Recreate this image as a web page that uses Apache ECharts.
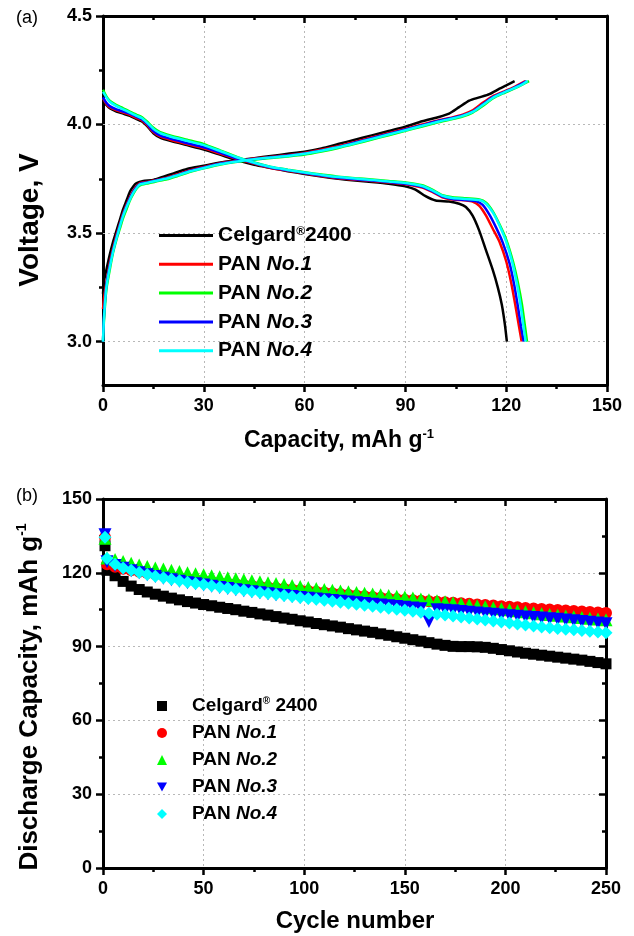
<!DOCTYPE html>
<html>
<head>
<meta charset="utf-8">
<script src="https://cdn.jsdelivr.net/npm/echarts@6/dist/echarts.min.js"></script>
<style>
  html, body { margin: 0; padding: 0; background: #fff; }
  #chart { width: 634px; height: 936px; }
</style>
</head>
<body>
<div id="chart"></div>
<script>
// ---- (a) charge / discharge profiles: [capacity mAh/g, voltage V] ----
const celgardCharge = [[0,3.22],[0.3,3.28],[1,3.33],[2,3.40],[3,3.46],[4,3.51],[5,3.56],[6,3.61],[7,3.65],[8,3.69],[9,3.715],[10,3.73],[12,3.74],[15,3.745],[18,3.76],[21,3.775],[25,3.795],[30,3.81],[35,3.825],[40,3.835],[45,3.845],[50,3.855],[55,3.865],[60,3.875],[65,3.89],[70,3.91],[75,3.93],[80,3.95],[85,3.97],[90,3.99],[95,4.015],[100,4.035],[103,4.05],[106,4.08],[109,4.11],[112,4.125],[115,4.14],[118,4.165],[120,4.18],[122.5,4.2]];
const celgardDischarge = [[0,4.11],[1,4.09],[2,4.075],[4,4.06],[6,4.05],[8,4.04],[10,4.025],[11.5,4.015],[13,3.995],[15,3.96],[17,3.94],[20,3.925],[25,3.905],[30,3.885],[35,3.86],[40,3.835],[45,3.815],[50,3.80],[55,3.785],[60,3.772],[65,3.76],[70,3.75],[75,3.742],[80,3.735],[85,3.727],[90,3.715],[93,3.70],[96,3.67],[99,3.65],[103,3.645],[106,3.635],[108,3.62],[110,3.58],[112,3.51],[114,3.42],[116,3.33],[117.5,3.25],[118.7,3.17],[119.6,3.08],[120.2,3.0]];

const pan1Charge = [[0,3.15],[0.3,3.2],[1,3.27],[2,3.36],[3,3.43],[4,3.49],[5,3.54],[6,3.59],[7,3.63],[8,3.665],[9,3.695],[10,3.715],[11,3.73],[13,3.735],[16,3.745],[19,3.755],[22,3.77],[26,3.79],[30,3.805],[35,3.822],[40,3.833],[45,3.843],[50,3.851],[55,3.859],[60,3.869],[65,3.884],[70,3.9],[75,3.92],[80,3.94],[85,3.96],[90,3.98],[95,4.0],[100,4.02],[104,4.033],[107,4.045],[110,4.065],[113,4.1],[116,4.13],[119,4.15],[122,4.17],[125.7,4.2]];
const pan1Discharge = [[0,4.12],[1,4.095],[2,4.08],[4,4.065],[6,4.055],[8,4.045],[10,4.03],[11.5,4.02],[13,4.0],[15,3.965],[17,3.945],[20,3.93],[25,3.91],[30,3.89],[35,3.865],[40,3.84],[45,3.82],[50,3.80],[55,3.787],[60,3.775],[65,3.763],[70,3.753],[75,3.746],[80,3.74],[85,3.733],[90,3.725],[95,3.71],[98,3.69],[101,3.665],[104,3.655],[108,3.65],[110,3.645],[112,3.625],[114,3.58],[116,3.52],[118,3.46],[120,3.37],[121.5,3.27],[122.7,3.17],[123.7,3.08],[124.6,3.0]];

const pan2Charge = [[0,3.0],[0.3,3.1],[1,3.24],[2,3.33],[3,3.41],[4,3.47],[5,3.52],[6,3.57],[7,3.61],[8,3.65],[9,3.68],[10,3.705],[11,3.72],[13,3.728],[16,3.738],[19,3.748],[22,3.762],[26,3.782],[30,3.798],[35,3.816],[40,3.828],[45,3.838],[50,3.846],[55,3.853],[60,3.862],[65,3.876],[70,3.892],[75,3.911],[80,3.931],[85,3.951],[90,3.971],[95,3.991],[100,4.011],[104,4.025],[107,4.037],[110,4.055],[113,4.085],[116,4.12],[119,4.143],[122,4.163],[124.5,4.182],[126.8,4.2]];
const pan2Discharge = [[0,4.16],[1,4.13],[2,4.11],[4,4.09],[6,4.075],[8,4.06],[10,4.045],[11.5,4.035],[13,4.015],[15,3.985],[17,3.965],[20,3.95],[25,3.93],[30,3.91],[35,3.88],[40,3.85],[45,3.825],[50,3.805],[55,3.792],[60,3.78],[65,3.77],[70,3.76],[75,3.753],[80,3.747],[85,3.74],[90,3.733],[95,3.72],[98,3.70],[101,3.675],[104,3.665],[108,3.66],[112,3.655],[114,3.64],[116,3.60],[118,3.54],[120,3.47],[122,3.37],[123.5,3.27],[124.7,3.17],[125.5,3.08],[126.2,3.0]];

const pan3Charge = [[0,3.0],[0.3,3.12],[1,3.26],[2,3.35],[3,3.42],[4,3.48],[5,3.535],[6,3.585],[7,3.625],[8,3.66],[9,3.69],[10,3.712],[11,3.727],[13,3.733],[16,3.743],[19,3.753],[22,3.767],[26,3.787],[30,3.802],[35,3.82],[40,3.831],[45,3.841],[50,3.849],[55,3.857],[60,3.867],[65,3.881],[70,3.897],[75,3.917],[80,3.937],[85,3.957],[90,3.977],[95,3.997],[100,4.017],[104,4.03],[107,4.042],[110,4.06],[113,4.093],[116,4.126],[119,4.147],[122,4.167],[126.1,4.2]];
const pan3Discharge = [[0,4.125],[1,4.1],[2,4.085],[4,4.07],[6,4.06],[8,4.05],[10,4.035],[11.5,4.025],[13,4.005],[15,3.97],[17,3.95],[20,3.935],[25,3.915],[30,3.895],[35,3.87],[40,3.843],[45,3.822],[50,3.802],[55,3.789],[60,3.777],[65,3.765],[70,3.755],[75,3.748],[80,3.742],[85,3.735],[90,3.727],[95,3.713],[98,3.693],[101,3.668],[104,3.657],[108,3.652],[111,3.647],[113,3.63],[115,3.585],[117,3.525],[119,3.455],[121,3.36],[122.4,3.26],[123.5,3.16],[124.4,3.07],[125.2,3.0]];

const pan4Charge = [[0,3.0],[0.3,3.11],[1,3.25],[2,3.34],[3,3.415],[4,3.475],[5,3.53],[6,3.58],[7,3.62],[8,3.655],[9,3.685],[10,3.708],[11,3.724],[13,3.731],[16,3.741],[19,3.751],[22,3.765],[26,3.785],[30,3.8],[35,3.818],[40,3.83],[45,3.84],[50,3.848],[55,3.855],[60,3.865],[65,3.879],[70,3.895],[75,3.914],[80,3.934],[85,3.954],[90,3.974],[95,3.994],[100,4.014],[104,4.028],[107,4.04],[110,4.058],[113,4.09],[116,4.123],[119,4.145],[122,4.165],[124.5,4.183],[126.4,4.2]];
const pan4Discharge = [[0,4.15],[1,4.125],[2,4.105],[4,4.085],[6,4.07],[8,4.055],[10,4.04],[11.5,4.03],[13,4.01],[15,3.98],[17,3.96],[20,3.945],[25,3.925],[30,3.905],[35,3.877],[40,3.848],[45,3.824],[50,3.804],[55,3.791],[60,3.779],[65,3.768],[70,3.758],[75,3.751],[80,3.745],[85,3.738],[90,3.731],[95,3.717],[98,3.697],[101,3.672],[104,3.662],[108,3.657],[112,3.652],[114,3.635],[116,3.595],[118,3.535],[120,3.46],[121.8,3.365],[123.2,3.265],[124.3,3.165],[125.1,3.075],[125.8,3.0]];

// ---- (b) cycling performance: discharge capacity (mAh/g) per cycle ----
const cycles = [1,2,6,10,14,18,22,26,30,34,38,42,46,50,54,58,62,66,70,74,78,82,86,90,94,98,102,106,110,114,118,122,126,130,134,138,142,146,150,154,158,162,166,170,174,178,182,186,190,194,198,202,206,210,214,218,222,226,230,234,238,242,246,250];
const celgardCycle = [131.0,121.0,118.8,116.5,114.6,113.2,112.2,111.3,110.5,109.7,109.0,108.3,107.7,107.1,106.6,106.0,105.5,105.0,104.4,103.9,103.3,102.8,102.2,101.6,101.1,100.5,100.0,99.4,98.9,98.4,97.9,97.3,96.8,96.3,95.8,95.2,94.6,94.0,93.4,92.8,92.2,91.6,91.0,90.5,90.1,90.0,90.0,89.9,89.7,89.3,88.8,88.3,87.8,87.3,86.9,86.5,86.1,85.7,85.3,84.9,84.5,84.0,83.5,83.0];
const pan1Cycle = [134.5,123.5,122.5,121.6,121.0,120.4,119.9,119.4,118.9,118.4,118.0,117.6,117.2,116.8,116.4,116.0,115.7,115.4,115.0,114.7,114.4,114.1,113.8,113.5,113.2,112.9,112.6,112.3,112.0,111.7,111.4,111.1,110.8,110.5,110.2,109.9,109.6,109.3,109.0,108.8,108.6,108.4,108.2,108.0,107.8,107.6,107.4,107.1,106.9,106.7,106.4,106.2,106.0,105.7,105.5,105.3,105.1,104.9,104.7,104.5,104.3,104.1,103.9,103.7];
const pan2Cycle = [134.0,126.0,125.4,124.6,123.9,123.2,122.6,122.0,121.5,121.0,120.5,120.0,119.6,119.2,118.8,118.4,118.0,117.6,117.2,116.8,116.4,116.0,115.6,115.2,114.8,114.4,114.0,113.6,113.2,112.9,112.6,112.3,112.0,111.7,111.4,111.1,110.8,110.5,110.2,109.8,109.4,109.0,108.6,108.2,107.8,107.4,107.0,106.6,106.2,105.8,105.4,105.0,104.6,104.2,103.8,103.4,103.0,102.7,102.4,102.1,101.8,101.5,101.2,100.9];
const pan3Cycle = [135.5,124.5,123.0,121.8,120.8,120.0,119.2,118.5,117.8,117.2,116.6,116.0,115.5,115.0,114.5,114.0,113.6,113.1,112.7,112.3,111.9,111.5,111.1,110.8,110.4,110.0,109.7,109.3,109.0,108.7,108.4,108.1,107.8,107.5,107.2,106.9,106.6,106.3,106.0,105.7,105.4,100.2,105.0,104.8,104.6,104.3,104.0,103.7,103.4,103.1,102.8,102.5,102.3,102.0,101.8,101.6,101.3,101.1,100.8,100.5,100.2,99.9,99.6,99.3];
const pan4Cycle = [134.5,125.8,123.5,122.0,121.0,120.1,119.3,118.6,118.0,117.4,116.8,116.2,115.7,115.2,114.7,114.2,113.8,113.3,112.9,112.4,112.0,111.6,111.2,110.8,110.4,110.0,109.6,109.2,108.8,108.4,108.0,107.6,107.2,106.8,106.4,106.0,105.6,105.2,104.8,104.4,104.0,103.6,103.2,102.8,102.4,102.0,101.6,101.2,100.8,100.4,100.0,99.6,99.2,98.8,98.4,98.0,97.7,97.4,97.1,96.8,96.5,96.2,95.9,95.6];

// ---- labels ----
const sampleNames = ['Celgard® 2400', 'PAN No.1', 'PAN No.2', 'PAN No.3', 'PAN No.4'];
const sampleColors = ['#000000', '#ff0000', '#00ff00', '#0000ff', '#00ffff'];
const voltageTicks = [3.0, 3.5, 4.0, 4.5];
const voltageMinorTicks = [3.25, 3.75, 4.25];

const profiles = [
  [celgardCharge, celgardDischarge],
  [pan1Charge, pan1Discharge],
  [pan2Charge, pan2Discharge],
  [pan3Charge, pan3Discharge],
  [pan4Charge, pan4Discharge]
];
const cycleValues = [celgardCycle, pan1Cycle, pan2Cycle, pan3Cycle, pan4Cycle];
const cycleSymbols = ['rect', 'circle', 'triangle', 'triangle', 'diamond'];
const cycleSymbolRotate = [0, 0, 0, 180, 0];
const cycleSymbolSize = [11, 12, 13, 13, 13];

const FONT = 'Liberation Sans, Arial, sans-serif';
const BLACK = '#000';

const tickLabel = (size) => ({ fontFamily: FONT, fontWeight: 'bold', fontSize: size, color: BLACK });
const gridDots = { show: true, lineStyle: { type: [2, 3], color: '#b8b8b8', width: 1 } };
const frameLine = { show: true, onZero: false, lineStyle: { color: BLACK, width: 3 } };
const majorTick = (inside) => ({ show: true, inside: inside, length: 7, lineStyle: { color: BLACK, width: 2.5 } });
const minorTick = { show: true, splitNumber: 2, length: 4, lineStyle: { color: BLACK, width: 2.5 } };

function legendText(spaceBeforeNumber) {
  return function (name) {
    if (name.indexOf('Celgard') === 0) {
      return '{b|Celgard}{sup|®}{b|' + (spaceBeforeNumber ? ' ' : '') + '2400}';
    }
    return '{b|PAN }{i|' + name.slice(4) + '}';
  };
}
function legendRich(size) {
  return {
    b: { fontFamily: FONT, fontWeight: 'bold', fontSize: size, lineHeight: 20, color: BLACK },
    i: { fontFamily: FONT, fontWeight: 'bold', fontStyle: 'italic', fontSize: size, lineHeight: 20, color: BLACK },
    sup: { fontFamily: FONT, fontWeight: 'bold', fontSize: Math.round(size * 0.55), lineHeight: 10, verticalAlign: 'top', color: BLACK }
  };
}

const series = [];
profiles.forEach((pair, i) => {
  pair.forEach((curve, k) => {
    const s = {
      type: 'line', name: sampleNames[i], xAxisIndex: 0, yAxisIndex: 0,
      data: curve, showSymbol: false, symbol: 'none', smooth: 0.2,
      color: sampleColors[i], lineStyle: { width: 2.5, color: sampleColors[i] },
      animation: false, z: 3
    };
    if (i === 0 && k === 0) {
      s.markLine = {
        silent: true, symbol: ['none', 'none'], label: { show: false }, z: 1,
        lineStyle: { type: [2, 3], color: '#b8b8b8', width: 1 },
        data: voltageTicks.filter(v => v < 4.5).map(v => ({ yAxis: v }))
      };
    }
    series.push(s);
  });
});
cycleValues.forEach((vals, i) => {
  series.push({
    type: 'scatter', name: sampleNames[i], xAxisIndex: 2, yAxisIndex: 3,
    data: cycles.map((c, j) => [c, vals[j]]),
    symbol: cycleSymbols[i], symbolRotate: cycleSymbolRotate[i], symbolSize: cycleSymbolSize[i],
    itemStyle: { color: sampleColors[i], opacity: 1 }, color: sampleColors[i],
    animation: false, z: 3
  });
});

const titleRich = (size) => ({
  t: { fontFamily: FONT, fontWeight: 'bold', fontSize: size, lineHeight: size + 4, fill: BLACK, color: BLACK },
  s: { fontFamily: FONT, fontWeight: 'bold', fontSize: Math.round(size * 0.55), lineHeight: 12, verticalAlign: 'top', fill: BLACK, color: BLACK }
});

const option = {
  backgroundColor: '#fff',
  animation: false,
  grid: [
    { left: 103, top: 16, width: 504, height: 369 },
    { left: 103, top: 499, width: 503, height: 369 }
  ],
  xAxis: [
    { gridIndex: 0, type: 'value', position: 'bottom', min: 0, max: 150, interval: 30,
      axisLine: frameLine, axisTick: majorTick(false), minorTick: minorTick,
      axisLabel: Object.assign({ margin: 12 }, tickLabel(18)), splitLine: gridDots },
    { gridIndex: 0, type: 'value', position: 'top', min: 0, max: 150, interval: 30,
      axisLine: frameLine, axisTick: majorTick(true), minorTick: minorTick,
      axisLabel: { show: false }, splitLine: { show: false } },
    { gridIndex: 1, type: 'value', position: 'bottom', min: 0, max: 250, interval: 50,
      axisLine: frameLine, axisTick: majorTick(false), minorTick: minorTick,
      axisLabel: Object.assign({ margin: 12 }, tickLabel(18)), splitLine: gridDots },
    { gridIndex: 1, type: 'value', position: 'top', min: 0, max: 250, interval: 50,
      axisLine: frameLine, axisTick: majorTick(true), minorTick: minorTick,
      axisLabel: { show: false }, splitLine: { show: false } }
  ],
  yAxis: [
    { gridIndex: 0, type: 'value', position: 'left', min: 2.8, max: 4.5,
      axisLine: frameLine,
      axisTick: Object.assign(majorTick(false), { customValues: voltageTicks }),
      axisLabel: Object.assign({ margin: 11, customValues: voltageTicks, formatter: v => v.toFixed(1) }, tickLabel(18)),
      splitLine: { show: false } },
    { gridIndex: 0, type: 'value', position: 'left', min: 2.8, max: 4.5,
      axisLine: { show: false, onZero: false },
      axisTick: { show: true, inside: false, length: 4, customValues: voltageMinorTicks, lineStyle: { color: BLACK, width: 2.5 } },
      axisLabel: { show: false }, splitLine: { show: false } },
    { gridIndex: 0, type: 'value', position: 'right', min: 2.8, max: 4.5,
      axisLine: frameLine, axisTick: { show: false }, axisLabel: { show: false }, splitLine: { show: false } },
    { gridIndex: 1, type: 'value', position: 'left', min: 0, max: 150, interval: 30,
      axisLine: frameLine, axisTick: majorTick(false), minorTick: minorTick,
      axisLabel: Object.assign({ margin: 11 }, tickLabel(18)), splitLine: gridDots },
    { gridIndex: 1, type: 'value', position: 'right', min: 0, max: 150, interval: 30,
      axisLine: frameLine, axisTick: majorTick(true), minorTick: minorTick,
      axisLabel: { show: false }, splitLine: { show: false } }
  ],
  legend: [
    { orient: 'vertical', left: 159, top: 225, padding: 0, itemGap: 7.8, itemWidth: 54, itemHeight: 3,
      icon: 'rect', selectedMode: false,
      data: sampleNames.map(n => ({ name: n, icon: 'rect' })),
      formatter: legendText(false),
      textStyle: { rich: legendRich(21) } },
    { orient: 'vertical', left: 157, top: 696, padding: 0, itemGap: 8.0, itemWidth: 10, itemHeight: 10,
      selectedMode: false,
      data: [
        { name: sampleNames[0], icon: 'rect' },
        { name: sampleNames[1], icon: 'circle' },
        { name: sampleNames[2], icon: 'triangle' },
        { name: sampleNames[3], icon: 'path://M0,0L10,0L5,9Z' },
        { name: sampleNames[4], icon: 'diamond' }
      ],
      formatter: legendText(true),
      textStyle: { padding: [0, 0, 0, 20], rich: legendRich(19) } }
  ],
  graphic: [
    { type: 'text', x: 16, y: 18, style: { text: '(a)', font: '18px ' + FONT, fill: BLACK, align: 'left', verticalAlign: 'middle' } },
    { type: 'text', x: 16, y: 496, style: { text: '(b)', font: '18px ' + FONT, fill: BLACK, align: 'left', verticalAlign: 'middle' } },
    { type: 'text', x: 30, y: 220, rotation: Math.PI / 2,
      style: { text: '{t|Voltage, V}', rich: titleRich(28), align: 'center', verticalAlign: 'middle' } },
    { type: 'text', x: 339, y: 441,
      style: { text: '{t|Capacity, mAh g}{s|-1}', rich: titleRich(23), align: 'center', verticalAlign: 'middle' } },
    { type: 'text', x: 30, y: 697, rotation: Math.PI / 2,
      style: { text: '{t|Discharge Capacity, mAh g}{s|-1}', rich: titleRich(26), align: 'center', verticalAlign: 'middle' } },
    { type: 'text', x: 355, y: 921,
      style: { text: '{t|Cycle number}', rich: titleRich(24), align: 'center', verticalAlign: 'middle' } }
  ],
  series: series
};

const chart = echarts.init(document.getElementById('chart'), null, { renderer: 'canvas' });
chart.setOption(option);
</script>
</body>
</html>
